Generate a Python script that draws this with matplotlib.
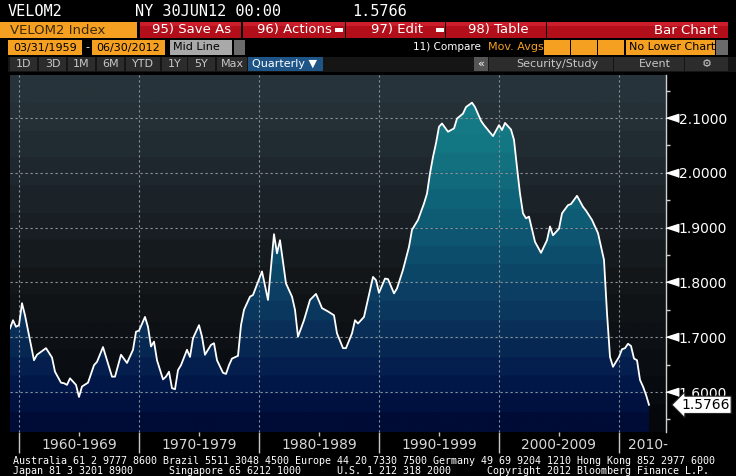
import numpy as np
import matplotlib
matplotlib.use("Agg")
import matplotlib.pyplot as plt
from matplotlib import font_manager, transforms
from matplotlib.patches import Rectangle, Polygon
from matplotlib.colors import LinearSegmentedColormap

# Velocidad de M2, trimestral (lectura aproximada del grafico)
anios = [1959.25, 1959.5, 1959.75, 1960.0, 1960.25, 1960.5, 1960.75, 1961.25, 1961.5, 1962.25,
         1962.75, 1963.0, 1963.5, 1963.75, 1964.0, 1964.25, 1964.75, 1965.0, 1965.25, 1965.75,
         1966.25, 1966.5, 1967.0, 1967.5, 1967.75, 1968.0, 1968.5, 1969.0, 1969.5, 1969.75,
         1970.0, 1970.5, 1970.75, 1971.0, 1971.25, 1971.5, 1972.0, 1972.25, 1972.5, 1972.75,
         1973.0, 1973.25, 1973.5, 1974.0, 1974.25, 1974.5, 1975.0, 1975.25, 1975.5, 1976.0,
         1976.25, 1976.5, 1977.0, 1977.25, 1977.5, 1977.75, 1978.25, 1978.5, 1978.75, 1979.25,
         1979.5, 1980.25, 1980.75, 1981.25, 1981.5, 1981.75, 1982.25, 1982.75, 1983.0, 1983.25,
         1983.75, 1984.25, 1984.75, 1985.25, 1985.75, 1986.25, 1986.5, 1987.0, 1987.25, 1987.75,
         1988.0, 1988.25, 1988.75, 1989.5, 1989.75, 1990.0, 1990.5, 1990.75, 1991.25, 1991.5,
         1992.0, 1992.5, 1992.75, 1993.25, 1993.75, 1994.0, 1994.25, 1994.5, 1994.75, 1995.0,
         1995.25, 1995.75, 1996.25, 1996.5, 1997.0, 1997.25, 1997.75, 1998.0, 1998.5, 1998.75,
         1999.5, 2000.0, 2000.25, 2000.5, 2001.0, 2001.25, 2001.5, 2001.75, 2002.0, 2002.25,
         2002.5, 2003.0, 2003.5, 2004.0, 2004.25, 2004.5, 2005.0, 2005.25, 2005.75, 2006.0,
         2006.5, 2007.0, 2007.25, 2007.75, 2008.25, 2008.75, 2009.0, 2009.25, 2009.5, 2010.0,
         2010.25, 2010.5, 2010.75, 2011.0, 2011.25, 2011.5, 2011.75, 2012.0, 2012.25, 2012.5]
velocidad = [1.716, 1.731, 1.719, 1.722, 1.762, 1.740, 1.713, 1.658, 1.668, 1.680,
             1.663, 1.637, 1.617, 1.616, 1.613, 1.625, 1.613, 1.591, 1.610, 1.617,
             1.649, 1.655, 1.682, 1.646, 1.628, 1.628, 1.668, 1.653, 1.677, 1.710,
             1.712, 1.737, 1.719, 1.683, 1.692, 1.658, 1.623, 1.628, 1.637, 1.607,
             1.605, 1.640, 1.649, 1.677, 1.664, 1.698, 1.722, 1.701, 1.668, 1.686,
             1.689, 1.658, 1.635, 1.633, 1.649, 1.661, 1.666, 1.722, 1.750, 1.774,
             1.777, 1.820, 1.768, 1.888, 1.853, 1.877, 1.798, 1.774, 1.750, 1.701,
             1.731, 1.768, 1.779, 1.753, 1.747, 1.740, 1.707, 1.680, 1.680, 1.707,
             1.731, 1.725, 1.737, 1.810, 1.804, 1.781, 1.807, 1.806, 1.780, 1.789,
             1.823, 1.865, 1.896, 1.914, 1.944, 1.962, 1.999, 2.029, 2.054, 2.084,
             2.090, 2.075, 2.081, 2.099, 2.108, 2.120, 2.128, 2.120, 2.095, 2.087,
             2.067, 2.087, 2.078, 2.091, 2.079, 2.060, 2.010, 1.962, 1.926, 1.917,
             1.920, 1.874, 1.854, 1.877, 1.902, 1.886, 1.898, 1.926, 1.941, 1.943,
             1.958, 1.938, 1.931, 1.914, 1.890, 1.841, 1.744, 1.664, 1.646, 1.664,
             1.678, 1.680, 1.688, 1.684, 1.661, 1.658, 1.622, 1.610, 1.595, 1.5766]

niveles = [1.6, 1.7, 1.8, 1.9, 2.0, 2.1]
decadas = [1960, 1970, 1980, 1990, 2000, 2010]
etiquetas_decada = ["1960-1969", "1970-1979", "1980-1989", "1990-1999", "2000-2009"]
ultimo = "1.5766"

W, H = 736, 476


def elegir(nombres):
    for n in nombres:
        try:
            font_manager.findfont(n, fallback_to_default=False)
            return n
        except ValueError:
            pass
    return "DejaVu Sans"


estrecha = elegir(["Liberation Sans Narrow", "DejaVu Sans"])
es_estrecha = estrecha != "DejaVu Sans"
mono = "DejaVu Sans Mono"

fig = plt.figure(figsize=(W / 100, H / 100), dpi=100, facecolor="black")


def caja(x0, y0, x1, y1, color, ec="none"):
    fig.add_artist(Rectangle((x0 / W, 1 - y1 / H), (x1 - x0) / W, (y1 - y0) / H,
                             transform=fig.transFigure, fc=color, ec=ec, lw=0.8))


def texto(x, y, s, **kw):
    fig.text(x / W, 1 - y / H, s, va="center", **kw)


# ---------- cabecera ----------
texto(8, 11, "VELOM2", color="white", family=mono, fontsize=11)
texto(135, 11, "NY 30JUN12 00:00", color="white", family=mono, fontsize=11)
texto(352, 11, "1.5766", color="white", family=mono, fontsize=11)

# fila 2
caja(0, 22, 137, 38, "#f5a021")
texto(10, 30, "VELOM2 Index", color="#3d2a05", family=estrecha, fontsize=11 if es_estrecha else 9.5)
for x0, x1 in [(140, 241), (243, 345), (346, 445), (446, 546), (547, 728)]:
    caja(x0, 22, x1, 38, "#b20f1a")
    caja(x0, 22, x1, 26, "#cc1e2a")
tam_boton = 11 if es_estrecha else 9.5
texto(192, 30, "95) Save As", color="white", family=estrecha, fontsize=tam_boton, ha="center")
texto(294, 30, "96) Actions", color="white", family=estrecha, fontsize=tam_boton, ha="center")
texto(397, 30, "97) Edit", color="white", family=estrecha, fontsize=tam_boton, ha="center")
texto(498, 30, "98) Table", color="white", family=estrecha, fontsize=tam_boton, ha="center")
texto(718, 30, "Bar Chart", color="white", family=estrecha, fontsize=tam_boton, ha="right")
for xi in [335, 436]:
    caja(xi, 28, xi + 8, 32, "white")

# fila 3
tam3 = 9.5 if es_estrecha else 8
caja(8, 40, 82, 55, "#f5a021")
texto(45, 47.5, "03/31/1959", color="black", family=estrecha, fontsize=tam3, ha="center")
texto(87, 47.5, "-", color="white", family=estrecha, fontsize=tam3, ha="center")
caja(92, 40, 165, 55, "#f5a021")
texto(128, 47.5, "06/30/2012", color="black", family=estrecha, fontsize=tam3, ha="center")
caja(170, 40, 232, 55, "#a9a9a9")
texto(173, 47.5, "Mid Line", color="black", family=estrecha, fontsize=tam3)
caja(234, 40, 245, 55, "#6b6b6b")
texto(413, 47.5, "11) Compare", color="white", family=estrecha, fontsize=tam3 - 0.5)
texto(488, 47.5, "Mov. Avgs", color="#f5a021", family=estrecha, fontsize=tam3)
for x0 in [544, 571, 598]:
    caja(x0, 40, x0 + 26, 55, "#f5a021")
caja(626, 40, 715, 55, "#f5a021")
texto(629, 47.5, "No Lower Chart", color="black", family=estrecha, fontsize=tam3)
caja(716, 40, 728, 55, "#6b6b6b")

# fila 4
caja(8, 57, 736, 72, "#151515")
botones = [(10, 37, "1D"), (39, 66, "3D"), (68, 95, "1M"), (97, 124, "6M"), (126, 160, "YTD"),
           (162, 187, "1Y"), (188, 215, "5Y"), (217, 247, "Max")]
for x0, x1, s in botones:
    caja(x0, 57, x1, 71, "#2c2c2c")
    texto((x0 + x1) / 2, 64, s, color="#c8c8c8", family=estrecha, fontsize=tam3, ha="center")
caja(248, 57, 323, 71, "#1f5487")
texto(285, 64, "Quarterly \u25bc", color="white", family=estrecha, fontsize=tam3, ha="center")
caja(474, 57, 488, 71, "#555555")
texto(481, 64, "\u00ab", color="white", family=estrecha, fontsize=tam3, ha="center")
for x0, x1, s in [(489, 613, "Security/Study"), (614, 684, "Event"), (685, 728, "\u2699")]:
    caja(x0, 57, x1, 71, "#2c2c2c")
    texto((x0 + x1) / 2 + (6 if s != "\u2699" else 0), 64, s, color="#c8c8c8",
          family=[estrecha, "DejaVu Sans"], fontsize=tam3, ha="center")

# ---------- grafico ----------
ax = fig.add_axes([10 / W, 1 - 432 / H, 656 / W, 357 / H])
x0, x1 = 1959.25, 1960 + (666 - 19) / 12
y0, y1 = 1.6 - 40 / 548, 2.1 + 43 / 548
ax.set_xlim(x0, x1)
ax.set_ylim(y0, y1)

# fondo en franjas
fondo = LinearSegmentedColormap.from_list("fondo", ["#05070b", "#0a0d11", "#0f1215", "#131719",
                                                    "#181e23", "#1d262c", "#222d34", "#27333a"], N=13)
grad = np.linspace(0, 1, 256).reshape(-1, 1)
ax.imshow(grad, aspect="auto", cmap=fondo, origin="lower", extent=[x0, x1, y0, y1], zorder=0)

# relleno bajo la curva
relleno = LinearSegmentedColormap.from_list("relleno", ["#000b36", "#02184a", "#082a55", "#0b3a60",
                                                        "#0c4a6a", "#0e5a73", "#11697b", "#137683",
                                                        "#157c88"], N=18)
im = ax.imshow(grad, aspect="auto", cmap=relleno, origin="lower", extent=[x0, x1, y0, 2.14], zorder=1)
verts = [(anios[0], y0)] + list(zip(anios, velocidad)) + [(anios[-1], y0)]
poly = Polygon(verts, closed=True, fc="none", ec="none")
ax.add_patch(poly)
im.set_clip_path(poly)

for v in niveles:
    ax.axhline(v, color="#8e9398", lw=0.8, ls=(0, (2, 2.5)), zorder=2)
for d in decadas:
    ax.axvline(d, color="#8e9398", lw=0.8, ls=(0, (2, 2.5)), zorder=2)

ax.plot(anios, velocidad, color="white", lw=1.3, zorder=4)

# ejes
for s in ["top", "left", "bottom"]:
    ax.spines[s].set_visible(False)
ax.spines["right"].set_color("#d0d0d0")
ax.spines["right"].set_linewidth(1)

tam_eje = 12 if es_estrecha else 10
ax.yaxis.tick_right()
ax.set_yticks(niveles)
ax.set_yticklabels(["%.4f" % v for v in niveles])
ax.set_yticks([1.55, 1.65, 1.75, 1.85, 1.95, 2.05, 2.15], minor=True)
ax.tick_params(axis="y", which="major", length=0, pad=9, labelcolor="white", labelsize=tam_eje)
ax.tick_params(axis="y", which="minor", length=3, width=1, color="#d0d0d0")
for lab in ax.get_yticklabels():
    lab.set_family(estrecha)
marca = [(-1, 0), (1, 0.65), (1, -0.65)]
tr_y = transforms.blended_transform_factory(ax.transAxes, ax.transData)
ax.plot([(672 - 10) / 656] * len(niveles), niveles, ls="none", marker=marca, ms=9,
        color="white", transform=tr_y, clip_on=False, zorder=5)

ax.text((681 - 10) / 656, float(ultimo), ultimo, transform=tr_y, va="center", ha="left",
        color="black", family=estrecha, fontsize=tam_eje, zorder=6,
        bbox=dict(boxstyle="larrow,pad=0.12", fc="white", ec="#222222", lw=0.8))

ax.set_xticks(decadas[:-1] + [2010])
ax.set_xticklabels([])
ax.set_xticks([d + 5 for d in decadas[:-1]], minor=True)
ax.set_xticklabels(etiquetas_decada, minor=True)
ax.tick_params(axis="x", which="major", length=15, width=1, color="#c8c8c8")
ax.tick_params(axis="x", which="minor", length=3, width=1, color="#c8c8c8", pad=1.5,
               labelcolor="#d8d8d8", labelsize=tam_eje)
for lab in ax.get_xticklabels(minor=True):
    lab.set_family(estrecha)
ax.text(2012.4, -(445 - 432) / 357, "2010-", transform=ax.get_xaxis_transform(), ha="center",
        va="center", color="#d8d8d8", family=estrecha, fontsize=tam_eje)

# ---------- pie ----------
texto(13, 461, "Australia 61 2 9777 8600 Brazil 5511 3048 4500 Europe 44 20 7330 7500 "
      "Germany 49 69 9204 1210 Hong Kong 852 2977 6000", color="white", family=mono, fontsize=7.2)
texto(13, 471, "Japan 81 3 3201 8900      Singapore 65 6212 1000      U.S. 1 212 318 2000"
      "      Copyright 2012 Bloomberg Finance L.P.", color="white", family=mono, fontsize=7.2)

fig.savefig("out.png", dpi=100, facecolor="black")
